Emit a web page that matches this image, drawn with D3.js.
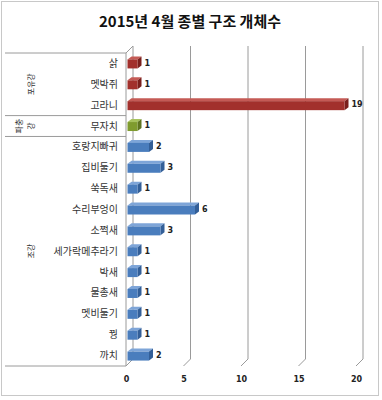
<!DOCTYPE html>
<html><head><meta charset="utf-8">
<script src="https://cdn.jsdelivr.net/npm/d3@7/dist/d3.min.js"></script>
<style>body{margin:0;background:#fff}svg{display:block}</style>
</head><body>
<script>
const title = "2015년 4월 종별 구조 개체수";
const categories = ["삵","멧박쥐","고라니","무자치","호랑지빠귀","집비둘기","쑥독새","수리부엉이","소쩍새","세가락메추라기","박새","물총새","멧비둘기","꿩","까치"];
const values = [1,1,19,1,2,3,1,6,3,1,1,1,1,1,2];
const classes = ["포유강","포유강","포유강","파충강","조강","조강","조강","조강","조강","조강","조강","조강","조강","조강","조강"];
const groups = [
  {name:"포유강", lines:["포유강"]},
  {name:"파충강", lines:["파충","강"]},
  {name:"조강", lines:["조강"]}
];
const xTicks = [0,5,10,15,20];
const palette = {
  "포유강": {front:"#a2302c", top:"#c45a55", side:"#7a1f1c"},
  "파충강": {front:"#7f9b2e", top:"#a7c25e", side:"#5f7520"},
  "조강":   {front:"#4a7dbd", top:"#7ea5d8", side:"#335f98"}
};

(function(){
const W = 382, H = 400;
const svg = d3.select("body").append("svg").attr("width", W).attr("height", H);
const font = "'Noto Sans CJK KR','Noto Sans',sans-serif";

svg.append("rect").attr("x",1.5).attr("y",1.5).attr("width",377).attr("height",394)
  .attr("fill","#fff").attr("stroke","#c8c8c8");

svg.append("text").attr("x",190).attr("y",27).attr("text-anchor","middle")
  .attr("font-family",font).attr("font-weight","bold").attr("font-size",15)
  .attr("fill","#111").text(title);

const x = d3.scaleLinear().domain([0,20]).range([126,356]);
const y = d3.scaleBand().domain(categories).range([53,366]);
const DX = 7, DY = -7;
const pTop = 53, pBottom = 366;
const grid = "#9a9a9a";

xTicks.forEach(t => {
  const fx = x(t);
  svg.append("path")
    .attr("d", `M${fx+DX},${pTop+DY}V${pBottom+DY}L${fx},${pBottom}`)
    .attr("fill","none").attr("stroke",grid).attr("stroke-width",1);
});
svg.append("path").attr("d",`M${x(0)},${pTop}L${x(0)+DX},${pTop+DY}`).attr("fill","none").attr("stroke",grid);
svg.append("line").attr("x1",x(0)).attr("x2",x(0)).attr("y1",pTop).attr("y2",pBottom).attr("stroke",grid);

const sepYs = [pTop, y("무자치"), y("호랑지빠귀"), pBottom];
sepYs.forEach(sy => {
  svg.append("line").attr("x1",5).attr("x2",x(0)).attr("y1",sy).attr("y2",sy).attr("stroke",grid);
});

const axis = d3.axisBottom(x).tickValues(xTicks).tickSize(0).tickPadding(0);
const ag = svg.append("g").attr("transform",`translate(0,${pBottom+10})`).call(axis);
ag.select(".domain").remove();
ag.selectAll("text").attr("font-family","'DejaVu Sans',sans-serif").attr("font-weight","bold")
  .attr("font-size",8).attr("fill","#222");

svg.append("g").selectAll("text").data(categories).join("text")
  .attr("x",118).attr("y",d => y(d)+y.bandwidth()/2).attr("dy","0.35em")
  .attr("text-anchor","end").attr("font-family",font).attr("font-size",10)
  .attr("fill","#333").text(d => d);

groups.forEach(g => {
  const members = categories.filter((c,i) => classes[i] === g.name);
  const y0 = y(members[0]), y1 = y(members[members.length-1]) + y.bandwidth();
  const cy = (y0 + y1)/2;
  const n = g.lines.length;
  g.lines.forEach((ln, i) => {
    const cx = 31 - (n-1-i)*12;
    svg.append("text").attr("transform",`translate(${cx},${cy}) rotate(-90)`)
      .attr("text-anchor","middle").attr("dy","0.35em")
      .attr("font-family",font).attr("font-size",8).attr("fill","#333").text(ln);
  });
});

const bh = 9, bdx = 4, bdy = -3;
const bars = svg.append("g");
categories.forEach((c,i) => {
  const v = values[i], col = palette[classes[i]];
  const x0 = x(0)+1.5, x1 = x(v);
  const yc = y(c) + y.bandwidth()/2 - 0.5;
  const y0 = yc - bh/2 + 1;
  bars.append("path").attr("d",`M${x0},${y0}L${x0+bdx},${y0+bdy}L${x1+bdx},${y0+bdy}L${x1},${y0}Z`).attr("fill",col.top);
  bars.append("path").attr("d",`M${x1},${y0}L${x1+bdx},${y0+bdy}L${x1+bdx},${y0+bh+bdy}L${x1},${y0+bh}Z`).attr("fill",col.side);
  bars.append("rect").attr("x",x0).attr("y",y0).attr("width",x1-x0).attr("height",bh).attr("fill",col.front);
  bars.append("text").attr("x",x1+bdx+3).attr("y",yc).attr("dy","0.35em")
    .attr("font-family","'DejaVu Sans',sans-serif").attr("font-weight","bold").attr("font-size",8)
    .attr("fill","#222").text(v);
});
})();
</script>
</body></html>
